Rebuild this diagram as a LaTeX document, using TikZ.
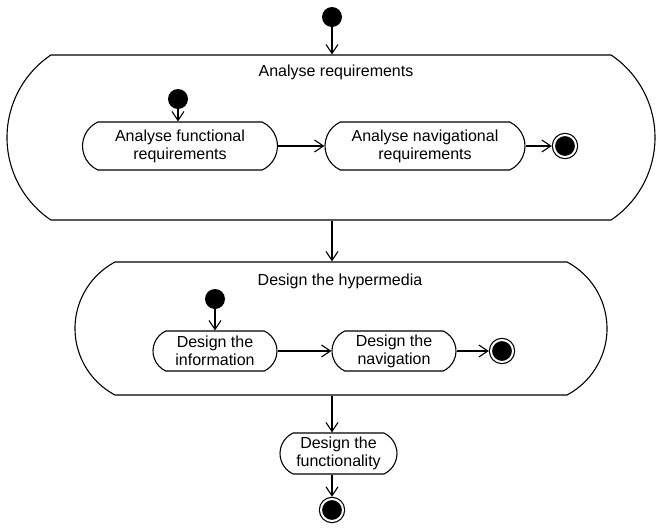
\documentclass[tikz,border=0pt]{standalone}
\usepackage{fontspec}
\setmainfont{Liberation Sans}
\usetikzlibrary{shapes.misc, arrows.meta}

\begin{document}
\begin{tikzpicture}[x=1pt, y=-1pt, font=\fontsize{16}{18}\selectfont,
    act/.style={rounded rectangle, draw, line width=1.1pt, inner sep=0pt, align=center, rounded rectangle arc length=130},
    region/.style={rounded rectangle, draw, line width=1.1pt, inner sep=0pt},
    initdot/.style={circle, fill=black, inner sep=0pt, minimum size=20pt},
    finaldot/.style={circle, fill=black, draw=black, line width=1.2pt, double=white, double distance=2pt, inner sep=0pt, minimum size=22pt, outer sep=2.2pt},
    flow/.style={-{Straight Barb[length=9pt,width=12pt]}, line width=1.1pt}]
  \useasboundingbox (0,0) rectangle (657,528);

  % 外层活动
  \node[region, minimum width=648pt, minimum height=165pt, rounded rectangle arc length=112] (req) at (331,137.5) {};
  \node (reqtitle) at (336,72) {Analyse requirements};
  \node[region, minimum width=532pt, minimum height=133pt, rounded rectangle arc length=124] (hyp) at (341,328.5) {};
  \node (hyptitle) at (340,281) {Design the hypermedia};

  % 起点和终点
  \node[initdot] (start) at (332,17) {};
  \node[finaldot] (stop) at (332,510) {};

  % 分析需求
  \node[initdot] (reqinit) at (178,99) {};
  \node[act, minimum width=195pt, minimum height=48pt] (fun) at (180,146) {Analyse functional\\requirements};
  \node[act, minimum width=200pt, minimum height=48pt] (nav) at (425,146) {Analyse navigational\\requirements};
  \node[finaldot] (reqend) at (565,146) {};

  % 设计超媒体
  \node[initdot] (hypinit) at (215,299) {};
  \node[act, minimum width=124pt, minimum height=40pt] (info) at (215,351) {Design the\\information};
  \node[act, minimum width=124pt, minimum height=40pt] (navi) at (394,351) {Design the\\navigation};
  \node[finaldot] (hypend) at (502,351) {};

  \node[act, minimum width=117pt, minimum height=41pt] (func) at (338.5,453.5) {Design the\\functionality};

  % 箭头
  \draw[flow] (start) -- (start |- req.north);
  \draw[flow] (reqinit) -- (reqinit |- fun.north);
  \draw[flow] (fun.east) -- (nav.west);
  \draw[flow] (nav.east) -- (reqend);
  \draw[flow] (req.south -| start) -- (start |- hyp.north);
  \draw[flow] (hypinit) -- (hypinit |- info.north);
  \draw[flow] (info.east) -- (navi.west);
  \draw[flow] (navi.east) -- (hypend);
  \draw[flow] (hyp.south -| start) -- (start |- func.north);
  \draw[flow] (stop |- func.south) -- (stop);
\end{tikzpicture}
\end{document}
